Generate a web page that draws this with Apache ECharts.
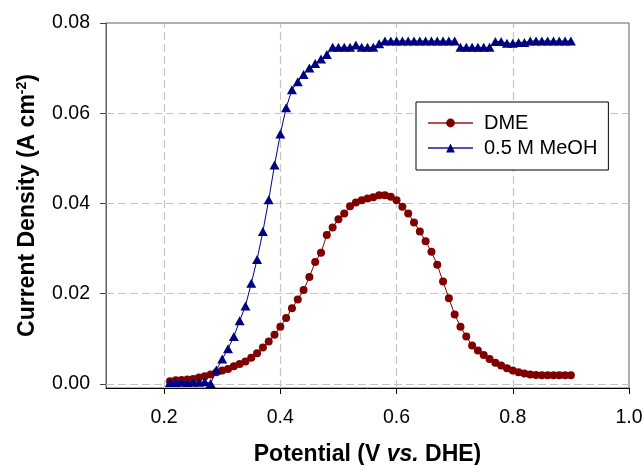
<!DOCTYPE html>
<html>
<head>
<meta charset="utf-8">
<script src="https://cdn.jsdelivr.net/npm/echarts@6/dist/echarts.min.js"></script>
<style>html,body{margin:0;padding:0;background:#fff}#c{width:644px;height:465px}</style>
</head>
<body>
<div id="c"></div>
<script>
// Potential (V vs. DHE), 0.01 V steps
const potential = [0.21,0.22,0.23,0.24,0.25,0.26,0.27,0.28,0.29,0.30,
  0.31,0.32,0.33,0.34,0.35,0.36,0.37,0.38,0.39,0.40,
  0.41,0.42,0.43,0.44,0.45,0.46,0.47,0.48,0.49,0.50,
  0.51,0.52,0.53,0.54,0.55,0.56,0.57,0.58,0.59,0.60,
  0.61,0.62,0.63,0.64,0.65,0.66,0.67,0.68,0.69,0.70,
  0.71,0.72,0.73,0.74,0.75,0.76,0.77,0.78,0.79,0.80,
  0.81,0.82,0.83,0.84,0.85,0.86,0.87,0.88,0.89,0.90];
const dme = [0.0006,0.0008,0.0009,0.0010,0.0011,0.0014,0.0017,0.0021,0.0026,0.0030,
  0.0033,0.0039,0.0044,0.0050,0.0058,0.0068,0.0081,0.0094,0.0109,0.0127,
  0.0146,0.0168,0.0187,0.0208,0.0237,0.0270,0.0291,0.0330,0.0347,0.0365,
  0.0378,0.0394,0.0402,0.0407,0.0411,0.0414,0.0418,0.0418,0.0415,0.0407,
  0.0393,0.0378,0.0358,0.0338,0.0316,0.0293,0.0264,0.0227,0.0190,0.0154,
  0.0127,0.0105,0.0085,0.0074,0.0064,0.0055,0.0047,0.0041,0.0035,0.0030,
  0.0026,0.0023,0.0021,0.0020,0.0019,0.0019,0.0019,0.0019,0.0019,0.0019];
const meoh = [0.0003,0.0003,0.0004,0.0003,0.0004,0.0004,0.0005,0.0001,0.0031,0.0055,
  0.0078,0.0105,0.0140,0.0173,0.0223,0.0276,0.0338,0.0408,0.0485,0.0554,
  0.0612,0.0652,0.0670,0.0686,0.0700,0.0710,0.0720,0.0730,0.0746,0.0746,
  0.0746,0.0746,0.0751,0.0746,0.0746,0.0746,0.0754,0.0760,0.0760,0.0760,
  0.0760,0.0760,0.0760,0.0760,0.0760,0.0760,0.0760,0.0760,0.0760,0.0760,
  0.0746,0.0746,0.0746,0.0746,0.0746,0.0746,0.0759,0.0759,0.0755,0.0755,
  0.0757,0.0757,0.0760,0.0760,0.0760,0.0760,0.0760,0.0760,0.0760,0.0760];
const xTicks = [0.2,0.4,0.6,0.8,1.0];
const yTicks = [0.00,0.02,0.04,0.06,0.08];
const xGrid = [0.2,0.4,0.6,0.8];
const yGrid = [0.00,0.02,0.04,0.06];

const FONT = 'Arial, "Liberation Sans", sans-serif';
const chart = echarts.init(document.getElementById('c'), null, {renderer:'canvas'});
const pairs = (xs, ys) => xs.map((x,i)=>[x, ys[i]]);
const gridStyle = {color:'#c4c4c4', width:1.2, type:[8,4]};

chart.setOption({
  animation:false,
  backgroundColor:'#fff',
  grid:{left:106, right:15, top:23, bottom:77, show:true, borderColor:'#606060', borderWidth:1,
    containLabel:false, outerBoundsMode:'none'},
  xAxis:{
    type:'value', min:0.1, max:1.0,
    name:'Potential (V {i|vs.} DHE)', nameLocation:'middle', nameGap:55,
    nameTextStyle:{fontFamily:FONT, fontSize:23, fontWeight:'bold', color:'#000',
      rich:{i:{fontFamily:FONT, fontSize:23, fontWeight:'bold', fontStyle:'italic', color:'#000'}}},
    axisLine:{show:true, onZero:false, lineStyle:{color:'#000', width:1}},
    axisTick:{show:true, inside:false, length:6, customValues:xTicks, lineStyle:{color:'#000'}},
    axisLabel:{customValues:xTicks, margin:20, fontFamily:FONT, fontSize:19.5, color:'#000',
      formatter:v=>v.toFixed(1)},
    splitLine:{show:false}
  },
  yAxis:{
    type:'value', min:-0.0009, max:0.08,
    name:'Current Density (A cm{s|-2})', nameLocation:'middle', nameGap:64, nameRotate:90,
    nameTextStyle:{fontFamily:FONT, fontSize:23, fontWeight:'bold', color:'#000', lineHeight:26,
      rich:{s:{fontFamily:FONT, fontSize:14, fontWeight:'bold', color:'#000', verticalAlign:'top', lineHeight:14}}},
    axisLine:{show:true, onZero:false, lineStyle:{color:'#606060', width:1}},
    axisTick:{show:true, inside:false, length:6, customValues:yTicks, lineStyle:{color:'#404040'}},
    axisLabel:{customValues:yTicks, margin:16, fontFamily:FONT, fontSize:19.5, color:'#000',
      formatter:v=>v.toFixed(2)},
    splitLine:{show:false}
  },
  legend:{
    orient:'vertical', left:416, top:102,
    backgroundColor:'#fff', borderColor:'#000', borderWidth:1,
    padding:[10,11,11,11], itemGap:3, itemWidth:45, itemHeight:11,
    textStyle:{fontFamily:FONT, fontSize:20, color:'#000', lineHeight:22, padding:[0,0,0,6]},
    data:[{name:'DME', lineStyle:{color:'#b85050'}},{name:'0.5 M MeOH', lineStyle:{color:'#5050b8'}}]
  },
  series:[
    {
      name:'grid', type:'line', data:[], silent:true, z:1,
      markLine:{silent:true, symbol:'none', z:1, animation:false,
        label:{show:false}, lineStyle:gridStyle, emphasis:{disabled:true},
        data: xGrid.map(v=>({xAxis:v})).concat(yGrid.map(v=>({yAxis:v})))}
    },
    {
      name:'DME', type:'line', data:pairs(potential, dme), z:3,
      symbol:'circle', symbolSize:8, showSymbol:true,
      lineStyle:{color:'#800000', width:1}, itemStyle:{color:'#800000'}
    },
    {
      name:'0.5 M MeOH', type:'line', data:pairs(potential, meoh), z:4,
      symbol:'triangle', symbolSize:[10,9], showSymbol:true,
      lineStyle:{color:'#000080', width:1}, itemStyle:{color:'#000080'}
    }
  ]
});
</script>
</body>
</html>
